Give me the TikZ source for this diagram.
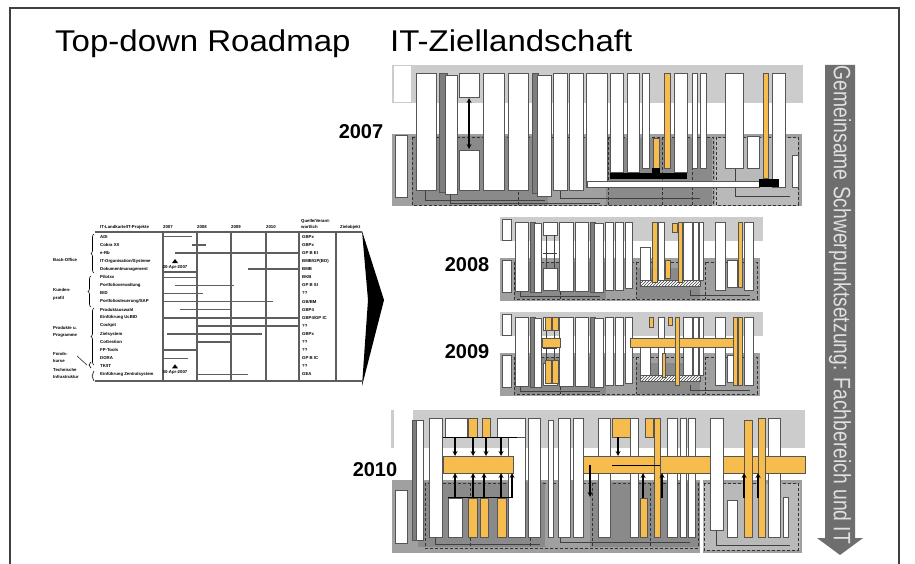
\documentclass[tikz,border=0pt]{standalone}
\usepackage{fontspec}
\setmainfont{Liberation Sans}
\usepackage{graphicx}
\usetikzlibrary{arrows, patterns, decorations.pathreplacing}
\definecolor{bandlight}{HTML}{CCCCCC}
\definecolor{banddark}{HTML}{A0A0A0}
\definecolor{bandshade}{HTML}{8A8A8A}
\definecolor{bandpale}{HTML}{B9B9B9}
\definecolor{colline}{HTML}{555555}
\definecolor{orangecol}{HTML}{F7BC4E}
\definecolor{shadowgray}{HTML}{7E7E7E}
\definecolor{tablegray}{HTML}{5E5E5E}
\definecolor{arrowgray}{HTML}{6E6E6E}
\definecolor{arrowtext}{HTML}{E0E0E0}
\definecolor{framegray}{HTML}{404040}

\begin{document}
\begin{tikzpicture}[
    x=1pt, y=-1pt,
    title/.style={font=\fontsize{30}{32}\selectfont, anchor=base west, inner sep=0pt},
    year/.style={font=\fontsize{20}{22}\selectfont\bfseries, inner sep=0pt},
    tabletext/.style={font=\fontsize{4.3}{5}\selectfont\bfseries, inner sep=0pt, anchor=west},
    colbox/.style={draw=colline, fill=white, line width=0.7pt},
    orangebox/.style={draw=colline, fill=orangecol, line width=0.7pt},
    shadowbox/.style={draw=colline, fill=shadowgray, line width=0.5pt},
    hatchbar/.style={draw=colline, pattern=north east lines, pattern color=black!75, line width=0.5pt},
    tableline/.style={draw=tablegray, line width=1.3pt},
    ganttbar/.style={draw=tablegray, line width=1.4pt},
    dashline/.style={densely dashed, draw=black!80, line width=0.5pt},
    linkline/.style={draw=black!75, line width=0.5pt},
    flowarrow/.style={->, >=stealth, line width=1.2pt},
    darrow/.style={<->, >=stealth, line width=1.2pt}
]
\useasboundingbox (0,0) rectangle (915,564);
\fill[white] (0,0) rectangle (915,564);

% frame
\draw[framegray, line width=1.2pt] (10,564) -- (10,8) -- (899,8) -- (899,564);

% titles
\node[title] (roadmap) at (55,52) {\scalebox{1.1}[1]{Top-down Roadmap}};
\node[title] (ziel) at (390,52) {\scalebox{1.1}[1]{IT-Ziellandschaft}};

% roadmap table
\node[tabletext] (hdproj) at (100,227) {IT-Landkarte/IT-Projekte};
\foreach \yr/\xx in {2007/163, 2008/197, 2009/231, 2010/266}
    \node[tabletext] at (\xx,227) {\yr};
\node[tabletext] (hdsrc) at (301,221) {Quelle/Verant-};
\node[tabletext] at (301,227) {wortlich};
\node[tabletext] (hdobj) at (340,227) {Zielobjekt};

\draw[tableline] (95,232) -- (362,232);
\draw[tableline] (95,381) -- (362,381);
\foreach \xx in {163,197,231,266,299,336}
    \draw[tableline] (\xx,232) -- (\xx,381);

\foreach \lbl [count=\i] in {ADI, Cobra XX, e-Rb, IT-Organisation/Systeme, Dokumentmanagement, Pilotxx, Portfolioverwaltung, BID, Portfoliosteuerung/SAP, Produktauswahl, Einführung UcBID, Cockpit, Zielsystem, CoGestion, FP-Tools, DORA, TK/IT, Einführung Zentralsystem}
    \node[tabletext] at (100,{228.6+8.1*\i}) {\lbl};
\foreach \src [count=\i] in {GBPx, GBPx, GP B EI, BMB/GP(BO), BMB, BKB, GP B SI, ??, GB/BM, GBP4, GBP4/GP IC, ??, GBPx, ??, ??, GP B IC, ??, GEA}
    \node[tabletext] at (302,{228.6+8.1*\i}) {\src};

\foreach \r/\a/\b in {1/163/192, 2/192/206, 3/175/299, 5/248/299, 6/163/197, 7/175/234, 8/163/203, 9/163/273, 10/180/231, 11/163/299, 12/197/299, 13/167/262, 14/197/231, 15/163/197, 16/163/188, 18/197/248}
    \draw[ganttbar] (\a,{228.6+8.1*\r}) -- (\b,{228.6+8.1*\r});
\draw[ganttbar] (163,272) -- (197,272);
\draw[ganttbar] (163,318) -- (299,318);

\foreach \r in {4,17} {
    \fill (172,{228.6+8.1*\r+2}) -- (175,{228.6+8.1*\r-2}) -- (178,{228.6+8.1*\r+2}) -- cycle;
    \node[tabletext, anchor=center] at (175,{228.6+8.1*\r+6}) {30-Apr-2007};
}

% groups
\draw[decorate, decoration={brace, amplitude=3pt}, line width=0.6pt] (94,273) -- (94,234);
\draw[decorate, decoration={brace, amplitude=3pt}, line width=0.6pt] (91,307) -- (91,276);
\draw[decorate, decoration={brace, amplitude=3pt}, line width=0.6pt] (94,365) -- (94,308);
\draw[decorate, decoration={brace, amplitude=2pt}, line width=0.6pt] (91,368) -- (91,362);
\draw[decorate, decoration={brace, amplitude=2pt}, line width=0.6pt] (94,381) -- (94,371);
\node[tabletext] (backoffice) at (53,260) {Back-Office};
\node[tabletext] (kunde) at (53,290) {Kunden-};
\node[tabletext] at (53,298) {profil};
\node[tabletext] (produkte) at (53,328) {Produkte u.};
\node[tabletext] at (53,335) {Programme};
\node[tabletext] (fonds) at (53,354) {Fonds-};
\node[tabletext] at (53,361) {kurse};
\node[tabletext] (technik) at (53,370) {Technische};
\node[tabletext] at (53,377) {Infrastruktur};
\draw[linkline, line width=0.7pt] (77,356) -- (87,365);

% wedge
\fill[black] (362,231) -- (384,300) -- (362,386) -- (368,300) -- cycle;

% landscape 2007
\fill[bandlight] (392,65) rectangle (803,103);
\fill[white] (394,66) rectangle (411,102);
\fill[banddark] (392,134) rectangle (802,206);
\fill[bandshade] (412,136) rectangle (548,205);
\fill[bandshade] (606,138) rectangle (712,205);
\fill[bandpale] (715,138) rectangle (798,205);
\draw[dashline] (412,137) rectangle (713,205);
\draw[dashline] (716,137) rectangle (798,205);
\foreach \xx in {518, 608, 662, 692}
    \draw[dashline] (\xx,137) -- (\xx,205);
\draw[linkline] (425,190) -- (425,200) -- (545,200);
\draw[linkline] (450,194) -- (450,203) -- (600,203);
\draw[linkline] (560,190) -- (560,198) -- (700,198);
\draw[linkline] (735,168) -- (735,196) -- (790,196);
\foreach \a/\b/\c/\d in {439/73/447/192, 532/73/538/193}
    \draw[shadowbox] (\a,\b) rectangle (\c,\d);
\foreach \a/\b/\c/\d in {395/135/407/197, 416/73/436/190, 445/75/457/194, 459/73/479/97, 459/150/479/190, 483/73/504/190, 508/73/528/190, 537/75/551/196, 553/73/567/190, 569/73/583/190, 586/73/607/187, 610/73/623/172, 627/73/639/172, 642/73/649/168, 674/73/687/172, 692/73/697/168, 700/73/706/168, 725/73/743/168, 747/136/759/168, 772/73/785/187, 792/155/798/187}
    \draw[colbox] (\a,\b) rectangle (\c,\d);
\foreach \a/\b/\c/\d in {653/138/659/168, 664/73/670/168, 763/73/768/178}
    \draw[orangebox] (\a,\b) rectangle (\c,\d);
\fill[black] (610,173) rectangle (687,179);
\fill[black] (652,168) rectangle (660,173);
\draw[colbox] (587,181) rectangle (759,187);
\fill[black] (759,179) rectangle (779,187);
\draw[darrow] (469,98) -- (469,149);

% landscapes 2008 and 2009
\foreach \yy in {0,95} {
\begin{scope}[shift={(0,\yy)}]
    \fill[bandlight] (500,217) rectangle (763,241);
    \fill[banddark] (500,258) rectangle (760,301);
    \fill[bandshade] (514,262) rectangle (606,299);
    \fill[bandshade] (636,268) rectangle (700,299);
    \draw[dashline] (514,262) rectangle (757,299);
    \foreach \xx in {560, 636, 705}
        \draw[dashline] (\xx,262) -- (\xx,299);
    \draw[linkline] (520,291) -- (520,296) -- (600,296);
    \draw[linkline] (690,290) -- (690,295) -- (750,295);
    \foreach \a/\b/\c/\d in {530/222/535/292, 590/222/595/292}
        \draw[shadowbox] (\a,\b) rectangle (\c,\d);
    \foreach \a/\b/\c/\d in {502/219/511/240, 502/260/511/292, 515/222/528/291, 534/223/541/292, 543/222/557/235, 543/268/557/290, 559/222/573/291, 575/222/588/291, 594/223/603/292, 605/222/613/290, 615/222/623/290, 625/222/632/288, 640/247/650/282, 658/222/664/282, 683/222/692/282, 693/222/698/280, 699/222/703/280, 715/222/725/290, 727/260/737/287, 744/222/753/290}
        \draw[colbox] (\a,\b) rectangle (\c,\d);
    \draw[linkline] (546,235) -- (546,268);
    \draw[linkline] (554,235) -- (554,268);
    \draw[linkline] (543,253) -- (557,253);
    \fill[white] (640,280) rectangle (700,286);
    \draw[hatchbar] (640,280) rectangle (700,286);
\end{scope}
}
\foreach \a/\b/\c/\d in {652/222/657/282, 665/260/670/278, 672/223/677/232, 678/222/682/282, 738/222/742/287}
    \draw[orangebox] (\a,\b) rectangle (\c,\d);
\foreach \a/\b/\c/\d in {545/317/551/330, 552/317/558/330, 542/338/560/347, 545/360/551/383, 552/360/558/383, 630/338/735/347, 649/317/653/327, 668/317/672/325, 675/317/679/385, 662/353/665/377, 733/317/737/385, 738/317/742/385}
    \draw[orangebox] (\a,\b) rectangle (\c,\d);

% landscape 2010
\fill[bandlight] (413,410) rectangle (805,448);
\fill[bandlight] (391,410) rectangle (394,448);
\fill[banddark] (392,480) rectangle (802,553);
\fill[bandshade] (418,482) rectangle (545,547);
\fill[bandshade] (590,482) rectangle (700,547);
\fill[bandpale] (703,484) rectangle (800,550);
\fill[white] (700,480) rectangle (703,553);
\draw[dashline] (425,483) rectangle (698,548);
\draw[dashline] (704,483) rectangle (798,550);
\foreach \xx in {470, 530, 592, 650}
    \draw[dashline] (\xx,483) -- (\xx,548);
\draw[linkline] (435,537) -- (435,544) -- (540,544);
\draw[linkline] (560,537) -- (560,542) -- (690,542);
\draw[linkline] (716,530) -- (716,545) -- (790,545);
\draw[shadowbox] (412,420) rectangle (418,540);
\foreach \a/\b/\c/\d in {395/490/407/543, 416/420/423/540, 429/418/442/537, 445/418/467/437, 497/418/525/437, 508/437/525/537, 528/418/540/537, 548/420/553/537, 558/418/570/537, 573/418/583/537, 598/418/610/537, 630/418/638/537, 667/418/677/537, 680/418/686/537, 688/418/695/537, 768/418/780/537, 448/498/462/537, 727/500/737/537, 783/497/788/537}
    \draw[colbox] (\a,\b) rectangle (\c,\d);
\draw[orangebox] (443,456) rectangle (513,473);
\draw[orangebox] (583,456) rectangle (805,473);
\draw[colbox] (710,418) rectangle (723,530);
\foreach \a/\b/\c/\d in {468/418/477/437, 482/418/490/437, 612/418/630/437, 645/418/653/437, 654/418/660/537, 744/420/752/537, 758/418/765/537, 468/498/477/537, 480/498/488/537, 497/498/506/537, 640/498/647/537}
    \draw[orangebox] (\a,\b) rectangle (\c,\d);
\draw[black, line width=0.9pt] (443,437) -- (517,437);
\draw[black, line width=0.9pt] (448,497) -- (512,497);
\draw[black, line width=0.9pt] (612,465) -- (660,465);
\foreach \xx in {455, 473, 486, 501, 618}
    \draw[flowarrow] (\xx,437) -- (\xx,456);
\foreach \xx in {455, 473, 484, 501, 512, 643, 662, 744, 758}
    \draw[flowarrow] (\xx,498) -- (\xx,473);
\draw[flowarrow] (590,465) -- (590,497);

% year labels
\node[year] (y2007) at (361,132) {2007};
\node[year] (y2008) at (467,265) {2008};
\node[year] (y2009) at (467,352) {2009};
\node[year] (y2010) at (375,470) {2010};

% focus arrow
\fill[arrowgray] (825,65) -- (855,65) -- (855,538) -- (863,538) -- (840,555) -- (817,538) -- (825,538) -- cycle;
\node[rotate=-90, text=arrowtext, inner sep=0pt] (focus) at (840,305)
    {\scalebox{1}[1.23]{\fontsize{19.3}{20}\selectfont Gemeinsame Schwerpunktsetzung: Fachbereich und IT}};
\end{tikzpicture}
\end{document}
